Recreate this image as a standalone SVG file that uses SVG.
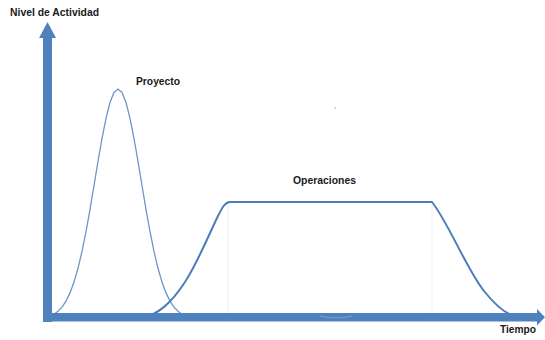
<svg xmlns="http://www.w3.org/2000/svg" width="545" height="340" viewBox="0 0 545 340">
<style>
.lbl{font-family:"Liberation Sans","Open Sans",Arial,sans-serif;font-weight:bold;font-size:11px;fill:#1a1a1a}
.axis{fill:#4f81bd}
.guide{stroke:#eaf0f7;stroke-width:1;fill:none}
</style>
<rect width="545" height="340" fill="#ffffff"/>
<g id="guides">
<line class="guide" x1="228" y1="203" x2="228" y2="314"/>
<line class="guide" x1="432" y1="203" x2="432" y2="314"/>
<circle cx="335" cy="108" r="0.8" fill="#a0a8b0"/>
</g>
<g id="curves">
<g id="proyecto-curve">
<polyline fill="none" stroke="#6b97c9" stroke-width="1.3" points="50,316.1 54,314.2 58,311.3 62,307.1 66,301.1 70,292.9 74,282.1 78,268.3 82,251.4 86,231.6 90,209.4 94,185.5 98,161.4 102,138.5 106,118.3 110,102.5 114,92.4 118,89 122,92.4 126,102.5 130,118.3 134,138.5 138,161.4 142,185.5 146,209.4 150,231.6 154,251.4 158,268.3 162,282.1 166,292.9 170,301.1 174,307.1 178,311.3 182,314.2 186,316.1"/>
</g>
<g id="operaciones-curve">
<path d="M138,319 C158,316 172,302 185,282 C198,262 210,232 218,216 C222,208 225,202 230,202 L432,202 C448,222 466,268 484,291 C496,306 505,314 515,316" fill="none" stroke="#4a7ebb" stroke-width="2"/>
</g>
</g>
<g id="axes">
<g id="y-axis">
<rect class="axis" x="43" y="36" width="9" height="286"/>
<polygon class="axis" points="47.5,22 39,38 56,38"/>
</g>
<g id="x-axis">
<rect class="axis" x="43" y="313" width="496" height="8.5"/>
<polygon class="axis" points="545,317.2 537,309 537,325.5"/>
<path d="M320,316 Q336,320 352,316" fill="none" stroke="#7aa0cf" stroke-width="1"/>
</g>
</g>
<g id="labels">
<g id="label-y"><text class="lbl" x="10" y="16" textLength="89" lengthAdjust="spacingAndGlyphs">Nivel de Actividad</text></g>
<g id="label-proyecto"><text class="lbl" x="136" y="85" textLength="44" lengthAdjust="spacingAndGlyphs">Proyecto</text></g>
<g id="label-operaciones"><text class="lbl" x="293" y="184" textLength="63" lengthAdjust="spacingAndGlyphs">Operaciones</text></g>
<g id="label-tiempo"><text class="lbl" x="500" y="333" textLength="36" lengthAdjust="spacingAndGlyphs">Tiempo</text></g>
</g>
</svg>
